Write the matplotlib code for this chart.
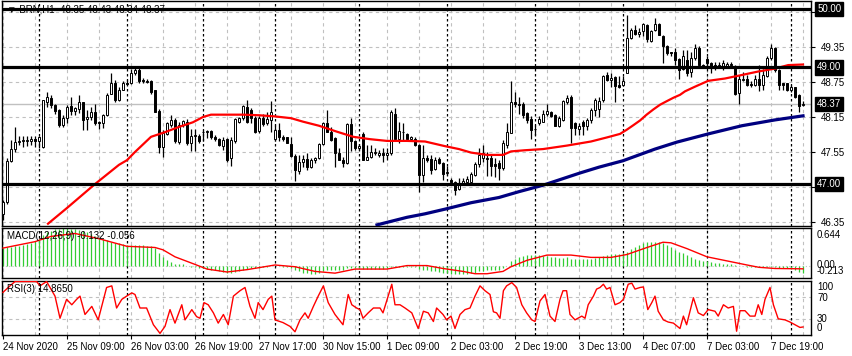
import matplotlib
matplotlib.use('Agg')
import matplotlib.pyplot as plt
import matplotlib.transforms as mtransforms

plt.rcParams['font.family'] = ['Liberation Sans', 'DejaVu Sans']

# ---- candles (H1 bars, index 0..200) ----
opens = [
    46.49, 46.70, 47.40, 47.60, 47.72, 47.74, 47.74, 47.74, 47.78, 47.73,
    47.63, 48.41, 48.47, 48.36, 48.27, 48.01, 48.14, 48.34, 48.25, 48.28,
    48.40, 48.11, 48.15, 48.24, 48.07, 48.04, 48.18, 48.55, 48.74, 48.45,
    48.62, 48.74, 48.73, 48.90, 48.96, 48.79, 48.77, 48.77, 48.61, 48.26,
    47.63, 47.86, 48.02, 48.10, 47.72, 48.01, 48.07, 47.70, 47.82, 47.83,
    47.89, 47.90, 47.91, 47.81, 47.77, 47.66, 47.77, 47.44, 47.73, 48.07,
    48.13, 48.33, 48.27, 48.14, 47.91, 48.14, 48.04, 48.10, 47.78, 47.93,
    47.80, 47.80, 47.69, 47.48, 47.23, 47.37, 47.43, 47.30, 47.42, 47.44,
    47.68, 48.05, 47.90, 47.79, 47.54, 47.42, 47.36, 48.03, 47.74, 47.61,
    47.86, 47.42, 47.46, 47.54, 47.50, 47.54, 47.50, 47.54, 48.21, 47.78,
    47.89, 47.86, 47.77, 47.78, 47.67, 47.16, 47.45, 47.43, 47.25, 47.43,
    47.36, 47.19, 47.07, 47.04, 46.91, 47.01, 47.04, 47.04, 47.16, 47.34,
    47.44, 47.45, 47.45, 47.34, 47.36, 47.27, 47.67, 47.88, 48.41, 48.38,
    48.38, 48.22, 48.11, 47.94, 48.04, 48.07, 48.21, 48.23, 48.19, 48.00,
    48.10, 48.41, 48.50, 48.04, 47.94, 48.07, 47.99, 48.10, 48.27, 48.28,
    48.44, 48.87, 48.78, 48.84, 48.70, 48.70, 48.91, 49.50, 49.64, 49.57,
    49.63, 49.73, 49.46, 49.65, 49.75, 49.54, 49.37, 49.27, 49.27, 49.15,
    48.98, 49.12, 48.93, 49.16, 49.34, 49.04, 49.14, 49.07, 49.05, 49.02,
    49.03, 49.03, 49.06, 49.01, 48.56, 48.79, 48.80, 48.71, 48.70, 48.81,
    48.70, 48.85, 49.16, 49.34, 48.95, 48.73, 48.73, 48.61, 48.66, 48.53,
    48.35,
]
highs = [
    46.73, 47.45, 47.76, 47.98, 47.82, 47.82, 47.82, 47.82, 47.82, 47.83,
    48.45, 48.58, 48.53, 48.38, 48.28, 48.18, 48.36, 48.50, 48.33, 48.53,
    48.41, 48.27, 48.33, 48.38, 48.08, 48.21, 48.56, 48.90, 48.78, 48.66,
    48.76, 48.78, 48.98, 49.00, 48.99, 48.82, 48.80, 48.79, 48.62, 48.28,
    47.93, 48.07, 48.18, 48.13, 48.06, 48.10, 48.12, 47.95, 47.95, 47.85,
    47.93, 47.93, 47.92, 47.84, 47.79, 47.80, 47.79, 47.80, 48.13, 48.15,
    48.36, 48.45, 48.30, 48.16, 48.17, 48.20, 48.24, 48.43, 48.01, 48.04,
    47.84, 47.81, 47.81, 47.52, 47.50, 47.50, 47.53, 47.45, 47.47, 47.70,
    48.07, 48.27, 47.98, 47.80, 47.61, 47.47, 48.04, 48.13, 47.76, 47.68,
    47.90, 47.67, 47.67, 47.61, 47.58, 47.61, 47.61, 48.27, 48.30, 48.07,
    48.04, 47.87, 47.83, 47.80, 47.68, 47.67, 47.50, 47.50, 47.47, 47.46,
    47.38, 47.31, 47.10, 47.05, 47.10, 47.10, 47.13, 47.20, 47.37, 47.61,
    47.67, 47.55, 47.50, 47.44, 47.42, 47.76, 48.04, 48.76, 48.58, 48.50,
    48.41, 48.24, 48.17, 48.01, 48.16, 48.27, 48.37, 48.25, 48.21, 48.17,
    48.44, 48.53, 48.52, 48.06, 48.04, 48.10, 48.13, 48.30, 48.47, 48.50,
    48.87, 48.93, 48.90, 48.85, 48.85, 48.85, 49.90, 49.67, 49.73, 49.67,
    49.76, 49.75, 49.64, 49.84, 49.77, 49.55, 49.38, 49.27, 49.33, 49.17,
    49.30, 49.30, 49.27, 49.41, 49.36, 49.06, 49.19, 49.10, 49.10, 49.09,
    49.13, 49.09, 49.10, 49.05, 48.87, 48.93, 48.87, 48.76, 48.87, 49.04,
    48.98, 49.19, 49.41, 49.35, 48.98, 48.74, 48.74, 48.70, 48.67, 48.54,
    48.43,
]
lows = [
    46.38, 46.65, 47.37, 47.55, 47.67, 47.63, 47.65, 47.67, 47.63, 47.62,
    47.61, 48.33, 48.30, 48.20, 47.98, 47.98, 48.05, 48.18, 48.19, 48.22,
    47.93, 47.93, 48.10, 48.01, 47.94, 47.96, 48.16, 48.54, 48.40, 48.42,
    48.61, 48.70, 48.72, 48.87, 48.74, 48.74, 48.73, 48.55, 48.24, 47.53,
    47.47, 47.84, 47.98, 47.70, 47.69, 47.98, 47.67, 47.56, 47.56, 47.71,
    47.74, 47.79, 47.78, 47.73, 47.66, 47.58, 47.38, 47.31, 47.71, 48.05,
    48.10, 48.04, 48.04, 47.88, 47.88, 48.00, 48.01, 47.90, 47.73, 47.73,
    47.74, 47.70, 47.47, 47.06, 47.18, 47.30, 47.24, 47.27, 47.36, 47.43,
    47.67, 47.89, 47.73, 47.29, 47.41, 47.29, 47.34, 47.56, 47.58, 47.58,
    47.41, 47.41, 47.44, 47.50, 47.47, 47.38, 47.42, 47.49, 47.76, 47.70,
    47.73, 47.73, 47.74, 47.65, 46.87, 47.04, 47.38, 47.18, 47.24, 47.34,
    47.07, 47.15, 47.00, 46.81, 46.89, 46.98, 47.01, 47.03, 47.13, 47.29,
    47.38, 47.13, 47.13, 47.12, 47.07, 47.24, 47.61, 47.87, 48.33, 48.21,
    48.13, 48.04, 47.77, 47.84, 48.01, 48.06, 48.16, 48.15, 47.99, 47.98,
    48.08, 48.38, 47.70, 47.84, 47.84, 47.84, 47.93, 48.04, 48.16, 48.15,
    48.41, 48.76, 48.67, 48.41, 48.64, 48.68, 48.90, 49.49, 49.56, 49.52,
    49.54, 49.44, 49.44, 49.63, 49.55, 49.07, 49.21, 49.19, 49.04, 48.81,
    48.96, 48.85, 48.84, 49.13, 49.01, 49.00, 49.04, 48.90, 48.96, 48.99,
    48.96, 49.00, 49.01, 48.53, 48.38, 48.76, 48.68, 48.66, 48.68, 48.59,
    48.61, 48.83, 49.13, 48.93, 48.62, 48.61, 48.60, 48.58, 48.48, 48.24,
    48.34,
]
closes = [
    46.70, 47.40, 47.60, 47.72, 47.74, 47.74, 47.75, 47.78, 47.74, 47.81,
    48.44, 48.49, 48.36, 48.26, 48.01, 48.14, 48.33, 48.26, 48.30, 48.41,
    48.09, 48.15, 48.24, 48.05, 48.04, 48.18, 48.53, 48.74, 48.44, 48.62,
    48.74, 48.72, 48.90, 48.96, 48.76, 48.76, 48.75, 48.58, 48.24, 47.64,
    47.87, 48.04, 48.10, 47.73, 48.01, 48.08, 47.70, 47.82, 47.84, 47.73,
    47.90, 47.91, 47.80, 47.77, 47.67, 47.76, 47.42, 47.76, 48.11, 48.14,
    48.34, 48.07, 48.13, 47.90, 48.14, 48.03, 48.12, 48.24, 47.92, 47.80,
    47.77, 47.70, 47.48, 47.24, 47.38, 47.43, 47.29, 47.42, 47.44, 47.68,
    48.05, 47.90, 47.76, 47.54, 47.42, 47.36, 48.03, 47.73, 47.61, 47.65,
    47.42, 47.46, 47.55, 47.54, 47.54, 47.50, 47.54, 48.24, 47.78, 47.91,
    47.90, 47.77, 47.81, 47.67, 47.16, 47.44, 47.41, 47.24, 47.41, 47.36,
    47.18, 47.20, 47.03, 46.90, 47.01, 47.05, 47.08, 47.17, 47.34, 47.50,
    47.53, 47.43, 47.31, 47.31, 47.27, 47.70, 47.90, 48.41, 48.37, 48.36,
    48.18, 48.10, 47.93, 47.95, 48.12, 48.21, 48.25, 48.17, 48.00, 48.13,
    48.42, 48.47, 47.96, 47.96, 48.00, 47.99, 48.10, 48.27, 48.44, 48.43,
    48.85, 48.79, 48.82, 48.68, 48.67, 48.77, 49.50, 49.64, 49.57, 49.61,
    49.74, 49.48, 49.63, 49.75, 49.56, 49.37, 49.25, 49.24, 49.13, 48.96,
    49.20, 48.91, 49.16, 49.34, 49.04, 49.03, 49.07, 49.03, 49.03, 49.05,
    49.07, 49.06, 49.04, 48.55, 48.80, 48.81, 48.70, 48.70, 48.80, 48.70,
    48.87, 49.16, 49.34, 48.95, 48.70, 48.70, 48.61, 48.67, 48.50, 48.34,
    48.37,
]

# ---- moving averages ----
red_ma_bars = [11.25, 16, 23, 29, 31, 33, 37, 40.5, 44, 47.5, 50, 52, 60, 64, 68,
               72, 75, 79, 83.4, 87.6, 91.75, 96, 101, 105.5, 110.5, 114, 117,
               121, 125, 127, 130.5, 135, 141, 147, 151, 154.25, 155.9, 157.6,
               159.25, 160.9, 162.6, 164.25, 165.9, 167.6, 169.25, 170.5, 173,
               176.3, 180.5, 184.7, 188.8, 193, 196.3, 200]
red_ma_vals = [46.32, 46.59, 47.00, 47.33, 47.41, 47.55, 47.81, 47.89, 47.98, 48.06,
               48.15, 48.19, 48.19, 48.18, 48.16, 48.13, 48.07, 48.00, 47.90, 47.81,
               47.77, 47.74, 47.74, 47.73, 47.65, 47.60, 47.54, 47.50, 47.50, 47.56,
               47.58, 47.60, 47.66, 47.73, 47.80, 47.86, 47.93, 48.01, 48.09, 48.19,
               48.28, 48.36, 48.42, 48.48, 48.53, 48.59, 48.67, 48.77, 48.81, 48.87,
               48.93, 48.98, 49.04, 49.05]
blue_ma_bars = [93.5, 101, 105.5, 110.5, 117, 124, 129, 135, 144.25, 149, 155, 163,
                168.5, 176.3, 184.7, 193, 200]
blue_ma_vals = [46.30, 46.43, 46.49, 46.57, 46.68, 46.77, 46.87, 46.98, 47.19, 47.29,
                47.40, 47.60, 47.72, 47.86, 48.00, 48.10, 48.17]

# ---- MACD(12,26,9) ----
macd_hist = [
    0.30, 0.31, 0.32, 0.33, 0.34, 0.35, 0.37, 0.39, 0.42, 0.45,
    0.52, 0.57, 0.60, 0.62, 0.63, 0.644, 0.64, 0.63, 0.62, 0.61,
    0.59, 0.57, 0.54, 0.51, 0.48, 0.45, 0.43, 0.41, 0.39, 0.38,
    0.37, 0.36, 0.36, 0.36, 0.35, 0.35, 0.34, 0.33, 0.30, 0.22,
    0.14, 0.09, 0.06, 0.03, 0.02, 0.02, 0.00, -0.02, -0.03, -0.04,
    -0.05, -0.06, -0.07, -0.08, -0.10, -0.11, -0.13, -0.13, -0.11, -0.09,
    -0.07, -0.06, -0.05, -0.05, -0.04, -0.03, -0.02, 0.00, -0.01, -0.01,
    -0.02, -0.03, -0.05, -0.08, -0.10, -0.12, -0.13, -0.14, -0.14, -0.13,
    -0.10, -0.08, -0.07, -0.07, -0.07, -0.07, -0.05, -0.05, -0.05, -0.05,
    -0.06, -0.06, -0.06, -0.06, -0.06, -0.06, -0.05, -0.02, -0.02, -0.02,
    -0.02, -0.02, -0.02, -0.03, -0.06, -0.07, -0.08, -0.09, -0.10, -0.11,
    -0.12, -0.13, -0.14, -0.15, -0.15, -0.15, -0.14, -0.13, -0.12, -0.10,
    -0.09, -0.08, -0.08, -0.07, -0.07, -0.04, 0.00, 0.08, 0.12, 0.15,
    0.17, 0.18, 0.18, 0.18, 0.18, 0.17, 0.16, 0.15, 0.14, 0.13,
    0.13, 0.14, 0.12, 0.11, 0.11, 0.11, 0.11, 0.12, 0.13, 0.14,
    0.16, 0.18, 0.19, 0.19, 0.19, 0.21, 0.24, 0.28, 0.31, 0.35,
    0.38, 0.40, 0.41, 0.41, 0.40, 0.38, 0.35, 0.31, 0.27, 0.24,
    0.21, 0.18, 0.15, 0.12, 0.10, 0.08, 0.07, 0.06, 0.05, 0.04,
    0.03, 0.02, 0.02, 0.01, 0.00, -0.01, -0.02, -0.02, -0.03, -0.03,
    -0.03, -0.03, -0.03, -0.03, -0.04, -0.04, -0.05, -0.06, -0.08, -0.11,
    -0.132,
]
signal_bars = [0, 8, 12, 18, 24, 31, 38, 40, 43, 48, 51, 56, 61, 68, 73, 78, 83, 88,
               96, 101, 106, 110, 115, 118, 121, 125, 127, 131, 136, 142, 147, 152,
               156, 161, 165, 167, 171, 176, 181, 186, 189, 193, 200]
signal_vals = [0.30, 0.41, 0.50, 0.55, 0.46, 0.33, 0.31, 0.27, 0.15, 0.02, -0.06,
               -0.11, -0.07, 0.01, -0.02, -0.10, -0.13, -0.06, -0.06, 0.00, 0.00,
               -0.05, -0.10, -0.14, -0.14, -0.10, -0.02, 0.09, 0.18, 0.18, 0.14,
               0.14, 0.19, 0.31, 0.40, 0.39, 0.29, 0.15, 0.08, 0.01, -0.03, -0.05,
               -0.056]

# ---- RSI(3) ----
rsi_bars = [0, 1.75, 3, 8.4, 9.25, 10.9, 13, 14.25, 15.9, 17.2, 18.4, 19.25, 20.5,
            22.2, 23.8, 25.9, 27.2, 28.4, 29.7, 30.9, 32.2, 33, 34.25, 35.9, 37.6,
            39.25, 40.5, 41.75, 43, 44.7, 45.5, 47.2, 48.4, 49.25, 50.25, 51.3,
            52.6, 53.8, 55.1, 56.3, 57.6, 59.25, 60.5, 61.75, 63, 63.8, 65, 66.3,
            67.2, 68, 70, 71.75, 73, 74.25, 75.5, 76.3, 77.6, 78.8, 80.1, 81.3, 83,
            85, 86.3, 87.2, 88.4, 89.25, 90, 91.3, 92.6, 94.25, 95, 96.3, 97.2, 98,
            99.25, 100.5, 102.2, 103.8, 105.1, 106.3, 107.6, 108.4, 110, 110.9, 112,
            113, 114.25, 115.5, 116.75, 118, 119.25, 120.5, 121.75, 122.6, 123.4,
            124.25, 125.1, 125.9, 127.2, 128.4, 129.7, 130.9, 132.2, 133, 134.25,
            135.5, 136.75, 138, 139.25, 140, 140.9, 141.75, 143, 144.7, 145.5,
            146.3, 147.6, 148.4, 149.25, 150.1, 150.9, 151.75, 153, 154.25, 155.1,
            156.3, 157.2, 158, 159.25, 160.1, 161.2, 162.2, 163, 163.8, 165.1,
            166.3, 167.6, 169.25, 170.1, 170.9, 172.6, 173.8, 175.1, 176.3, 178,
            178.8, 180.1, 181.3, 182.6, 183.4, 184.25, 185.5, 186.75, 188, 188.8,
            189.7, 190.5, 191.75, 192.6, 193.8, 195.5, 196.75, 198, 199.25, 200]
rsi_vals = [79, 91, 99, 99, 91, 99, 72, 31, 66, 56, 66, 72, 38,
            53, 28, 88, 91, 50, 66, 72, 78, 75, 50, 50, 19,
            3, 16, 47, 22, 56, 28, 47, 34, 31, 60, 56,
            41, 22, 38, 19, 72, 82, 88, 53, 31, 60, 47, 66,
            72, 28, 23, 16, 6, 28, 41, 31, 53, 72, 91, 60, 38,
            19, 75, 56, 50, 47, 31, 41, 50, 50, 41, 72, 94, 56,
            56, 50, 41, 12, 44, 41, 25, 50, 38, 28, 35,
            12, 38, 47, 50, 72, 91, 82, 75, 43, 41,
            31, 82, 91, 97, 88, 56, 41, 28, 25, 63,
            75, 35, 25, 66, 82, 82, 38, 28, 35, 31,
            56, 72, 85, 88, 94, 85, 88, 56, 60, 66,
            94, 96, 85, 88, 89, 47, 60, 72, 44, 28,
            24, 22, 12, 35, 19, 69, 41, 36, 47, 44,
            35, 56, 50, 53, 7, 45, 45, 35, 35, 56,
            38, 66, 88, 56, 30, 28, 24, 19, 14, 14.87]

# ---- axes labels / levels ----
price_ticks = [46.35, 46.95, 47.55, 48.15, 48.75, 49.35, 49.95]
key_levels = [50.00, 49.00, 47.00]
last_price = 48.37
day_start_bars = [9, 31, 50, 68, 89, 111, 133, 155, 176, 197]
time_label_bars = [0, 16, 32, 48, 64, 80, 96, 112, 128, 144, 160, 176, 192]
time_labels = ['24 Nov 2020', '25 Nov 09:00', '26 Nov 03:00', '26 Nov 19:00',
               '27 Nov 17:00', '30 Nov 15:00', '1 Dec 09:00', '2 Dec 03:00',
               '2 Dec 19:00', '3 Dec 13:00', '4 Dec 07:00', '7 Dec 03:00',
               '7 Dec 19:00']

W, H = 852, 356
fig = plt.figure(figsize=(W / 100, H / 100), dpi=100)
fig.patch.set_facecolor('white')


def rect(x0, y0, x1, y1):
    # pixel box (top-left origin) -> figure fraction
    return [x0 / W, 1 - y1 / H, (x1 - x0) / W, (y1 - y0) / H]


def fpos(x, y):
    return x / W, 1 - y / H


ax = fig.add_axes(rect(2, 1, 811, 226))
ax_macd = fig.add_axes(rect(2, 228, 811, 278))
ax_rsi = fig.add_axes(rect(2, 281, 811, 335))

grid_col = '#c0c0c0'
fs = 7

for a in (ax, ax_macd, ax_rsi):
    a.set_xlim(-0.25, 202)
    for s in a.spines.values():
        s.set_linewidth(1)
        s.set_color('black')
    for b in range(0, 201, 8):
        a.axvline(b, color=grid_col, lw=0.8, ls=(0, (3, 3)), zorder=0)
    for b in day_start_bars:
        a.axvline(b, color='black', lw=0.9, ls=(0, (2, 2)), zorder=1)
    a.tick_params(axis='x', bottom=False, labelbottom=False)

# ---- main price panel ----
ax.set_ylim(46.281, 50.139)
for p in price_ticks:
    ax.axhline(p, color=grid_col, lw=0.8, ls=(0, (3, 3)), zorder=0)
ax.axhline(last_price, color=grid_col, lw=1, zorder=1)

bars = list(range(len(closes)))
ax.vlines(bars, lows, highs, color='black', lw=0.9, zorder=3)
bottoms = [min(o, c) for o, c in zip(opens, closes)]
heights = [max(abs(c - o), 0.008) for o, c in zip(opens, closes)]
faces = ['white' if c >= o else 'black' for o, c in zip(opens, closes)]
ax.bar(bars, heights, bottom=bottoms, width=0.5, color=faces,
       edgecolor='black', linewidth=0.7, zorder=4)

ax.plot(red_ma_bars, red_ma_vals, color='red', lw=1.6, zorder=5)
ax.plot(blue_ma_bars, blue_ma_vals, color='#000080', lw=2.3, zorder=5)

for lv in key_levels:
    ax.axhline(lv, color='black', lw=2.3, zorder=6)

ax.yaxis.tick_right()
ax.set_yticks(price_ticks)
ax.set_yticklabels([f'{p:.2f}' for p in price_ticks])
ax.tick_params(axis='y', length=3, width=0.8, pad=4, labelsize=fs, colors='black')

blend = mtransforms.blended_transform_factory(ax.transAxes, ax.transData)
for lv in key_levels + [last_price]:
    ax.text(1.0075, lv, f'{lv:.2f}', transform=blend, ha='left', va='center',
            fontsize=fs, color='white', clip_on=False, zorder=10,
            bbox=dict(boxstyle='square,pad=0.22', fc='black', ec='black'))

fig.text(*fpos(7, 10), '\u25bc BRN,H1  48.35 48.43 48.34 48.37', fontsize=fs,
         ha='left', va='center', color='black')

# ---- MACD panel ----
ax_macd.set_ylim(-0.213, 0.644)
ax_macd.axhline(0, color=grid_col, lw=0.8, ls=(0, (1, 2)), zorder=0)
ax_macd.vlines(bars, 0, macd_hist, color='#32cd32', lw=0.9, zorder=2)
ax_macd.plot(signal_bars, signal_vals, color='red', lw=1, zorder=3)
ax_macd.set_yticks([])
fig.text(*fpos(7, 236), 'MACD(12,26,9) -0.132 -0.056', fontsize=fs,
         ha='left', va='center', color='black')
fig.text(*fpos(817, 235), '0.644', fontsize=fs, ha='left', va='center')
fig.text(*fpos(817, 265), '0.00', fontsize=fs, ha='left', va='center')
fig.text(*fpos(817, 271.5), '-0.213', fontsize=fs, ha='left', va='center')

# ---- RSI panel ----
ax_rsi.set_ylim(0, 100)
for lv in (70, 30):
    ax_rsi.axhline(lv, color=grid_col, lw=0.8, ls=(0, (3, 3)), zorder=0)
ax_rsi.plot(rsi_bars, rsi_vals, color='red', lw=1, zorder=3, clip_on=True)
ax_rsi.set_yticks([])
fig.text(*fpos(7, 289), 'RSI(3) 14.8650', fontsize=fs, ha='left', va='center')
for val, yp in ((100, 287), (70, 298), (30, 319), (0, 328)):
    fig.text(*fpos(817, yp), str(val), fontsize=fs, ha='left', va='center')

ax_rsi.set_xticks(time_label_bars)
ax_rsi.set_xticklabels(time_labels)
ax_rsi.tick_params(axis='x', bottom=True, labelbottom=True, length=3, width=0.8,
                   pad=2, labelsize=fs, direction='out')
for lbl in ax_rsi.get_xticklabels():
    lbl.set_ha('left')

fig.savefig('out.png', dpi=100, facecolor='white')
